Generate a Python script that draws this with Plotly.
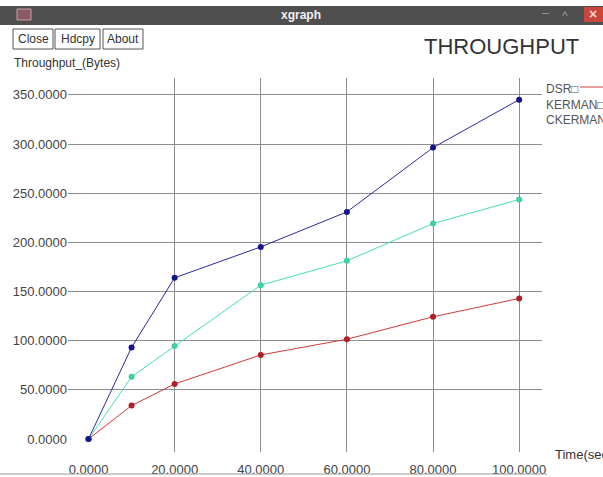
import plotly.graph_objects as go

# ---- data ----
time_sec = [0, 10, 20, 40, 60, 80, 100]
dsr = [0, 34, 56, 85.5, 101.5, 124.3, 143]
kerman = [0, 63.3, 94.5, 156.5, 181.2, 219.2, 243.6]
ckerman = [0, 93.2, 164, 195.4, 231, 296.4, 345.2]
series_names = ["DSR", "KERMAN", "CKERMAN"]
x_ticks = [0, 20, 40, 60, 80, 100]
y_ticks = [0, 50, 100, 150, 200, 250, 300, 350]

# ---- layout geometry (pixels) ----
W, H = 603, 477
L, R, T, B = 68, 542, 78, 452
FONT = "Liberation Sans, Arial, sans-serif"


def px(x):
    return (x - L) / (R - L)


def py(y):
    return (B - y) / (B - T)


colors = {"DSR": "#d43a3a", "KERMAN": "#45e0b2", "CKERMAN": "#2a2aa0"}
mcolors = {"DSR": "#b01e2a", "KERMAN": "#3fd0a0", "CKERMAN": "#14148a"}

fig = go.Figure()
for name, vals in zip(series_names, [dsr, kerman, ckerman]):
    fig.add_trace(go.Scatter(
        x=time_sec, y=vals, name=name, mode="lines+markers",
        line=dict(color=colors[name], width=1),
        marker=dict(color=mcolors[name], size=6, symbol="circle"),
        showlegend=False,
    ))

shapes = []
annotations = []


def note(text, x, y, size, color="#333333", anchor="center", family=FONT):
    annotations.append(dict(text=text, xref="paper", yref="paper", x=px(x), y=py(y),
                            xanchor=anchor, yanchor="middle", showarrow=False,
                            font=dict(family=family, size=size, color=color)))


# window title bar
shapes.append(dict(type="rect", xref="paper", yref="paper",
                   x0=px(0), x1=px(W), y0=py(25), y1=py(6),
                   fillcolor="#4f4f4f", line=dict(width=0), layer="above"))
# window icon
shapes.append(dict(type="rect", xref="paper", yref="paper",
                   x0=px(17), x1=px(31), y0=py(20), y1=py(9),
                   fillcolor="#8a5a66", line=dict(color="#c8a0aa", width=1), layer="above"))
# close button (red)
shapes.append(dict(type="rect", xref="paper", yref="paper",
                   x0=px(584), x1=px(603), y0=py(22), y1=py(7),
                   fillcolor="#c9463d", line=dict(width=0), layer="above"))
note("<b>×</b>", 593, 14, 14, "#f4d0d0")
note("–", 545, 13, 12, "#9a9a9a")
note("^", 565, 16, 12, "#9a9a9a")
note("<b>xgraph</b>", 301, 15, 12, "#f0f0f0")

# buttons
for label, x0, x1 in [("Close", 13, 53), ("Hdcpy", 55, 100), ("About", 103, 143)]:
    shapes.append(dict(type="rect", xref="paper", yref="paper",
                       x0=px(x0), x1=px(x1), y0=py(49), y1=py(29),
                       fillcolor="white", line=dict(color="#555555", width=1), layer="below"))
    note(label, (x0 + x1) / 2, 39, 12)

# title
note("THROUGHPUT", 501, 46, 22)
# y axis title
note("Throughput_(Bytes)", 12, 63, 12, anchor="left")
# x axis title
note("Time(sec)", 553, 454, 13, anchor="left")

# legend labels
for name, y in zip(series_names, [89, 105, 120]):
    note(name + "\u25a1" if name != "CKERMAN" else name, 544, y, 12, "#555555", anchor="left")
shapes.append(dict(type="line", xref="paper", yref="paper",
                   x0=px(580), x1=px(603), y0=py(87), y1=py(87),
                   line=dict(color=colors["DSR"], width=1)))

# bottom window edge
shapes.append(dict(type="line", xref="paper", yref="paper",
                   x0=px(0), x1=px(547), y0=py(474), y1=py(474),
                   line=dict(color="#9a9a9a", width=1)))

xr0 = -4.76
xr1 = 105.3
yr0 = -13.2
yr1 = 367.2

fig.update_layout(
    width=W, height=H,
    margin=dict(l=L, r=W - R, t=T, b=H - B, pad=0, autoexpand=False),
    paper_bgcolor="white", plot_bgcolor="white",
    shapes=shapes, annotations=annotations,
    font=dict(family=FONT, size=13, color="#444444"),
    xaxis=dict(range=[xr0, xr1], tickvals=x_ticks,
               ticktext=[f"{v:.4f}" for v in x_ticks], automargin=False,
               showgrid=True, gridcolor="#8e8e8e", gridwidth=1,
               zeroline=True, zerolinecolor="rgba(0,0,0,0)",
               showline=False, ticks="outside", ticklen=5, tickcolor="rgba(0,0,0,0)",
               tickfont=dict(family=FONT, size=13, color="#444444"), fixedrange=True),
    yaxis=dict(range=[yr0, yr1], tickvals=y_ticks,
               ticktext=[f"{v:.4f}" for v in y_ticks], automargin=False,
               showgrid=True, gridcolor="#8e8e8e", gridwidth=1,
               zeroline=True, zerolinecolor="rgba(0,0,0,0)",
               showline=False, ticks="", ticklen=0,
               tickfont=dict(family=FONT, size=13, color="#444444"), fixedrange=True),
)

fig.write_html("out.html", config={"displayModeBar": False},
               post_script="document.body.style.margin='0';")
